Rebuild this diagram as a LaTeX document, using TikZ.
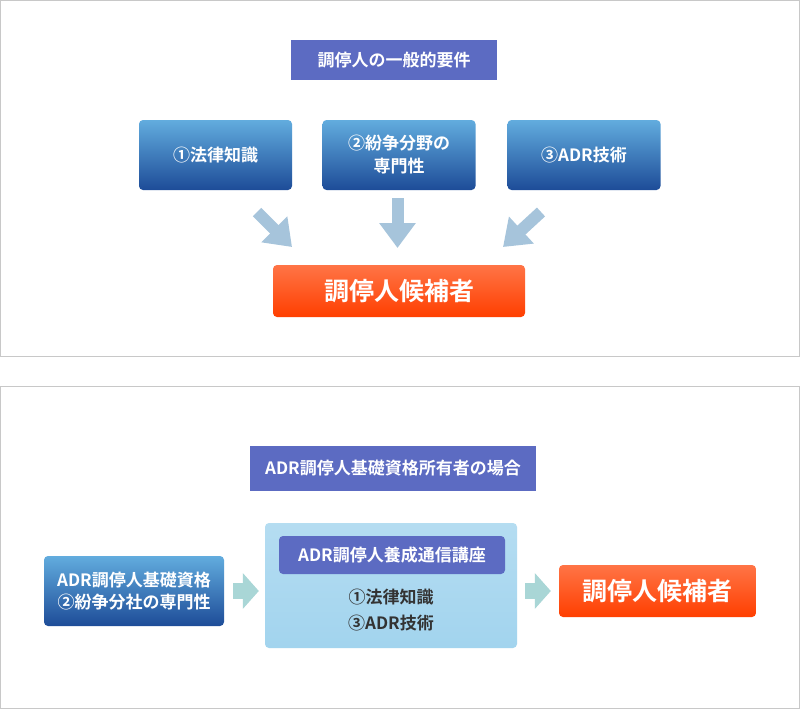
\documentclass[tikz,border=0pt]{standalone}
\usepackage{fontspec}
\setmainfont{Noto Sans CJK JP}[BoldFont={Noto Sans CJK JP Bold}]
\usetikzlibrary{arrows.meta, positioning, calc}

\definecolor{paneledge}{HTML}{C8C8C8}
\definecolor{titleblue}{HTML}{5C6BC2}
\definecolor{boxtop}{HTML}{62ACDE}
\definecolor{boxmid}{HTML}{3A7DC2}
\definecolor{boxbot}{HTML}{1D4C98}
\definecolor{candtop}{HTML}{FF7446}
\definecolor{candbot}{HTML}{FF3F00}
\definecolor{coursefill}{HTML}{A2D4EE}
\definecolor{downarrow}{HTML}{A6C4DB}
\definecolor{flowteal}{HTML}{A9D6D6}

\begin{document}
\begin{tikzpicture}[
    x=1pt, y=-1pt,
    every node/.style={font=\bfseries},
    panelbox/.style={draw=paneledge, fill=white, line width=0.8pt, inner sep=0pt},
    titlebox/.style={fill=titleblue, text=white, inner sep=0pt, font=\bfseries\fontsize{17}{20}\selectfont},
    reqbox/.style={rounded corners=4pt, top color=boxtop, middle color=boxmid, bottom color=boxbot, text=white, align=center, inner sep=0pt, minimum width=153pt, minimum height=70pt, font=\bfseries\fontsize{17}{23}\selectfont},
    candbox/.style={rounded corners=4pt, top color=candtop, middle color=candbot!90!candtop, bottom color=candbot, text=white, inner sep=0pt, font=\bfseries\fontsize{25}{28}\selectfont},
    coursebox/.style={rounded corners=4pt, top color=coursefill!80!white, bottom color=coursefill, inner sep=0pt},
    downarrow/.style={draw=downarrow, line width=12pt, -{Triangle[length=25pt, width=35pt]}},
    flowarrow/.style={draw=flowteal, line width=16pt, -{Triangle[length=16pt, width=35pt]}}
]
    \useasboundingbox (0,0) rectangle (800,709);

    % Panel 1: general requirements
    \node (panelone) [panelbox, minimum width=799pt, minimum height=355.5pt] at (400,178.25) {};
    \node (titleone) [titlebox, minimum width=206pt, minimum height=40pt] at (394,60) {調停人の一般的要件};
    \node (law) [reqbox] at (215.5,155) {①法律知識};
    \node (field) [reqbox] at (399,155) {②紛争分野の\\専門性};
    \node (skill) [reqbox] at (584,155) {③ADR技術};
    \node (candone) [candbox, minimum width=252pt, minimum height=52pt] at (399,291) {調停人候補者};

    % arrow ends between the boxes
    \coordinate (lawtail) at (257,212);
    \coordinate (lawhead) at (292,247);
    \coordinate (fieldtail) at (397.5,198);
    \coordinate (fieldhead) at (397.5,248);
    \coordinate (skilltail) at (541,212);
    \coordinate (skillhead) at (503,247);

    \draw [downarrow] (lawtail) -- (lawhead);
    \draw [downarrow] (fieldtail) -- (fieldhead);
    \draw [downarrow] (skilltail) -- (skillhead);

    % Panel 2: holders of the basic qualification
    \node (paneltwo) [panelbox, minimum width=799pt, minimum height=322pt] at (400,547.25) {};
    \node (titletwo) [titlebox, minimum width=286pt, minimum height=45pt] at (393,468.5) {ADR調停人基礎資格所有者の場合};
    \node (basic) [reqbox, minimum width=180pt, font=\bfseries\fontsize{17}{22}\selectfont] at (134,591) {ADR調停人基礎資格\\②紛争分社の専門性};
    \node (course) [coursebox, minimum width=252pt, minimum height=125pt] at (391,585.5) {};
    \node (coursetitle) [titlebox, rounded corners=4pt, minimum width=226pt, minimum height=38pt] at (392,555) {ADR調停人養成通信講座};
    \node (coursebody) [align=center, text=black!80, font=\bfseries\fontsize{17}{26}\selectfont] at (391,610) {①法律知識\\③ADR技術};
    \node (candtwo) [candbox, minimum width=197pt, minimum height=52pt] at (657.5,591) {調停人候補者};

    \draw [flowarrow, shorten <=9pt, shorten >=6pt] (basic.east) -- (basic.east -| course.west);
    \draw [flowarrow, shorten <=8pt, shorten >=8pt] (course.east |- candtwo.west) -- (candtwo.west);

\end{tikzpicture}
\end{document}
